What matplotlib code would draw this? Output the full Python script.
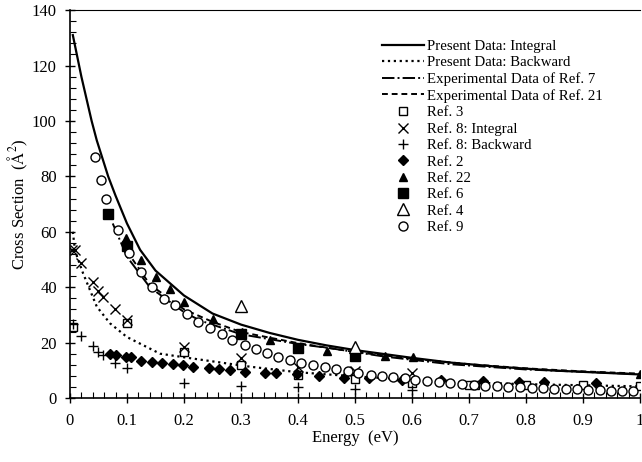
import numpy as np
import matplotlib
matplotlib.use("Agg")
import matplotlib.pyplot as plt

# Present data curves
int_x = [0.005, 0.02, 0.038, 0.047, 0.067, 0.08, 0.1, 0.123, 0.15, 0.2, 0.25, 0.3, 0.35, 0.4, 0.45, 0.5, 0.6, 0.667, 0.75, 0.85, 1.0]
int_y = [131, 116, 100, 93, 80, 73, 63, 53.5, 46, 37, 30.5, 26.5, 23.5, 21, 19, 17.3, 14.5, 12.8, 11.3, 9.9, 8.5]
bwd_x = [0.005, 0.009, 0.023, 0.047, 0.07, 0.1, 0.158, 0.21, 0.316, 0.4, 0.5, 0.667, 0.8, 1.0]
bwd_y = [60, 53, 45, 33, 27, 22, 16, 14.4, 11.3, 9.3, 7.8, 5.8, 5.0, 4.2]

# experimental curves
ref7_x = [0.075, 0.1, 0.14, 0.2, 0.228, 0.3, 0.4, 0.456, 0.55, 0.667, 0.8, 1.0]
ref7_y = [63, 51, 40, 31, 28, 23, 19.5, 18, 15, 12.2, 10.3, 8.6]
ref21_x = [0.1, 0.14, 0.2, 0.25, 0.3, 0.4, 0.5, 0.6, 0.7, 0.8, 0.9, 1.0]
ref21_y = [53, 41, 32, 27.5, 23.8, 19.8, 16.6, 14.2, 12.2, 10.7, 9.6, 8.8]

# reference points
ref3_x = [0.006, 0.1, 0.2, 0.3, 0.4, 0.5, 0.6, 0.7, 0.71, 0.8, 0.9, 1.0]
ref3_y = [25.8, 27, 16.7, 11.9, 8.3, 6.7, 5.5, 4.7, 4.7, 4.7, 4.7, 4.3]
ref8i_x = [0.003, 0.009, 0.02, 0.04, 0.05, 0.058, 0.079, 0.1, 0.2, 0.3, 0.4, 0.5, 0.6]
ref8i_y = [53.4, 53.4, 48.6, 42, 38.6, 36.6, 32, 28.1, 18.5, 14.3, 11.1, 9.9, 8.9]
ref8b_x = [0.005, 0.02, 0.04, 0.05, 0.058, 0.079, 0.1, 0.2, 0.3, 0.4, 0.5, 0.6]
ref8b_y = [26.6, 22.4, 18.8, 16.7, 15.5, 12.6, 10.9, 5.5, 4.4, 3.9, 3.1, 2.9]
ref2_x = [0.07, 0.081, 0.099, 0.107, 0.125, 0.143, 0.162, 0.18, 0.198, 0.216, 0.243, 0.262, 0.28, 0.307,
          0.342, 0.361, 0.398, 0.436, 0.48, 0.525, 0.582, 0.65, 0.724, 0.788, 0.832, 0.923]
ref2_y = [15.9, 15.7, 14.9, 14.8, 13.5, 13.1, 12.7, 12.1, 11.9, 11.3, 10.7, 10.4, 10.1, 9.5,
          8.9, 8.9, 8.7, 7.9, 7.3, 7.1, 6.5, 6.5, 6.3, 5.9, 5.6, 5.5]
ref22_x = [0.099, 0.125, 0.151, 0.175, 0.2, 0.25, 0.301, 0.351, 0.401, 0.451, 0.553, 0.602, 1.0]
ref22_y = [57.6, 49.8, 43.8, 39.2, 34.8, 28.4, 23.9, 20.9, 18.5, 17.1, 15.2, 14.9, 8.7]
ref6_x = [0.067, 0.1, 0.3, 0.4, 0.5]
ref6_y = [66.6, 54.7, 23.2, 18.2, 15.2]
ref4_x = [0.3, 0.5]
ref4_y = [33.2, 18.3]
ref9_x = [0.044, 0.054, 0.064, 0.085, 0.104, 0.124, 0.143, 0.165, 0.184, 0.205, 0.225, 0.246, 0.266, 0.285,
          0.307, 0.327, 0.345, 0.365, 0.386, 0.406, 0.427, 0.447, 0.467, 0.487, 0.506, 0.528, 0.547, 0.567,
          0.587, 0.606, 0.627, 0.647, 0.667, 0.687, 0.708, 0.728, 0.749, 0.769, 0.789, 0.81, 0.829, 0.849,
          0.87, 0.889, 0.909, 0.93, 0.949, 0.969, 0.988]
ref9_y = [87, 78.7, 71.8, 60.7, 52.2, 45.5, 40, 35.6, 33.6, 30.5, 27.5, 25.2, 23.1, 20.9,
          19.1, 17.6, 16.4, 14.9, 13.7, 12.5, 11.9, 11.1, 10.4, 9.9, 9.1, 8.3, 7.9, 7.5,
          7.1, 6.5, 6.1, 5.9, 5.4, 5.1, 4.7, 4.4, 4.3, 4.1, 3.9, 3.7, 3.5, 3.2,
          3.1, 3.1, 3.0, 2.9, 2.6, 2.6, 2.6]

plt.rcParams["font.family"] = ["Liberation Serif", "DejaVu Serif"]
plt.rcParams["mathtext.fontset"] = "stix"

fig = plt.figure(figsize=(6.42, 4.62), dpi=100)
ax = fig.add_axes([0.109, 0.1385, 0.888, 0.8395])

k = "black"
ax.plot(int_x, int_y, "-", color=k, lw=1.6, label="Present Data: Integral")
ax.plot(bwd_x, bwd_y, ":", color=k, lw=1.6, label="Present Data: Backward")
ax.plot(ref7_x, ref7_y, "-.", color=k, lw=1.4, label="Experimental Data of Ref. 7")
ax.plot(ref21_x, ref21_y, "--", color=k, lw=1.4, dashes=(3, 2), label="Experimental Data of Ref. 21")

ms = 5.5
ax.plot(ref3_x, ref3_y, "s", mfc="white", mec=k, mew=1, ms=ms, ls="none", label="Ref. 3")
ax.plot(ref8i_x, ref8i_y, "x", color=k, mew=1, ms=ms + 1, ls="none", label="Ref. 8: Integral")
ax.plot(ref8b_x, ref8b_y, "+", color=k, mew=1, ms=ms + 1, ls="none", label="Ref. 8: Backward")
ax.plot(ref2_x, ref2_y, "D", color=k, ms=ms - 0.5, ls="none", label="Ref. 2")
ax.plot(ref22_x, ref22_y, "^", color=k, ms=ms, ls="none", label="Ref. 22")
ax.plot(ref6_x, ref6_y, "s", color=k, ms=ms + 1, ls="none", label="Ref. 6")
ax.plot(ref4_x, ref4_y, "^", mfc="white", mec=k, mew=1, ms=ms + 2.5, ls="none", label="Ref. 4")
ax.plot(ref9_x, ref9_y, "o", mfc="white", mec=k, mew=1, ms=ms + 1, ls="none", label="Ref. 9")

ax.set_xlim(0, 1)
ax.set_ylim(0, 140)
ax.set_xticks(np.arange(0, 1.01, 0.1))
ax.set_xticklabels(["0", "0.1", "0.2", "0.3", "0.4", "0.5", "0.6", "0.7", "0.8", "0.9", "1"])
ax.set_yticks(range(0, 141, 20))
ax.set_xticks(np.arange(0, 1.001, 0.02), minor=True)
ax.set_yticks(range(0, 141, 4), minor=True)
ax.tick_params(which="major", direction="inout", length=7, width=1, labelsize=12)
ax.tick_params(axis="x", which="major", pad=7)
ax.tick_params(axis="y", which="major", pad=6)
ax.tick_params(which="minor", direction="in", length=4, width=0.8)

ax.spines["right"].set_visible(False)
ax.spines["top"].set_linewidth(0.8)
ax.spines["left"].set_linewidth(1.2)
ax.spines["bottom"].set_linewidth(1.2)

ax.set_xlabel("Energy  (eV)", fontsize=12, labelpad=1)
ax.set_ylabel(r"Cross Section  ($\mathrm{\AA}^2$)", fontsize=12, labelpad=1)

ax.legend(loc="upper left", bbox_to_anchor=(0.537, 0.94), frameon=False, fontsize=10.7,
          handlelength=2.8, handletextpad=0.2, labelspacing=0.2, borderaxespad=0, numpoints=1)

fig.savefig("out.png", dpi=100)
